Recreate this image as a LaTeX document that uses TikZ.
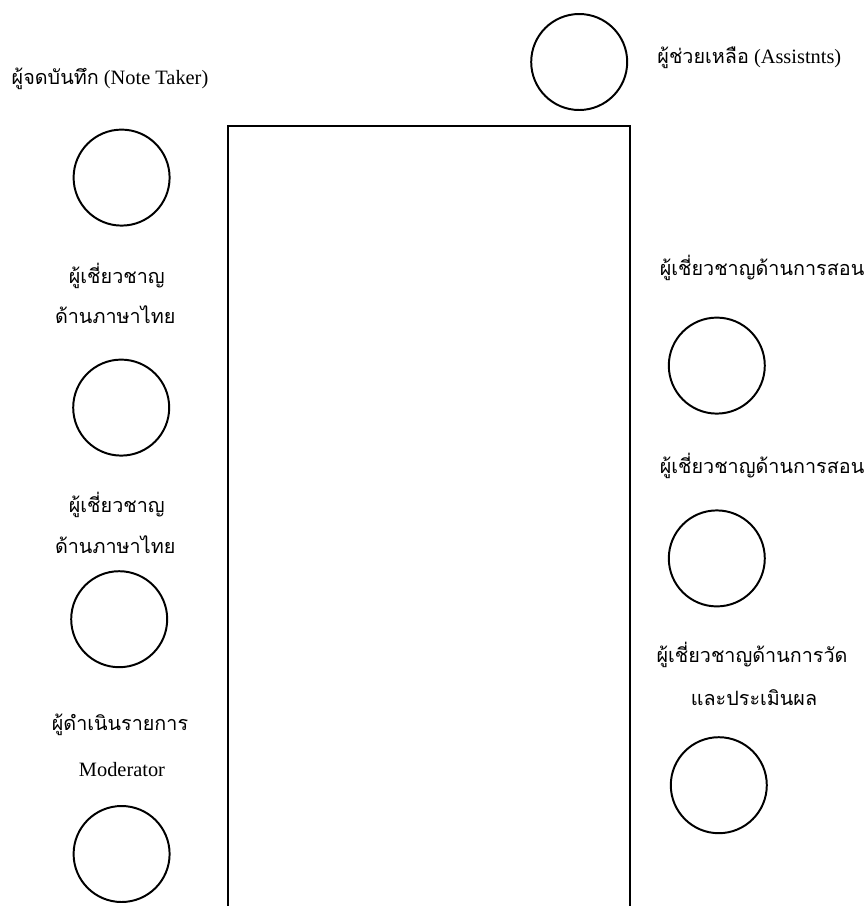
\documentclass[tikz,border=0pt]{standalone}
\usepackage{fontspec}
\setmainfont{Liberation Serif}
\newfontfamily\thaifont[Script=Thai,Scale=0.97]{Loma}
\newcommand{\thtxt}[1]{{\thaifont #1}}
\usetikzlibrary{positioning}

\begin{document}
\begin{tikzpicture}[
      every node/.style={font=\fontsize{14.5}{16}\selectfont},
      seat/.style={draw,circle,minimum size=2.4cm,line width=1.4pt,inner sep=0pt},
      lbl/.style={anchor=base,inner sep=0pt},
      tablebox/.style={draw,line width=1.4pt}]
      \useasboundingbox (0,0) rectangle (21.6,-22.65);
      % table
      \draw[tablebox] (5.7,-22.65) -- (5.7,-3.15) -- (15.75,-3.15) -- (15.75,-22.65);
      % seats
      \node[seat] (help) at (14.48,-1.55) {};
      \node[seat] (note) at (3.04,-4.44) {};
      \node[seat] (thai1) at (3.03,-10.19) {};
      \node[seat] (thai2) at (2.98,-15.48) {};
      \node[seat] (mod) at (3.04,-21.35) {};
      \node[seat] (teach1) at (17.92,-9.14) {};
      \node[seat] (teach2) at (17.92,-13.96) {};
      \node[seat] (eval) at (17.97,-19.63) {};
      % labels
      \node[lbl,anchor=base west] (helplbl) at (16.43,-1.58) {\thtxt{ผู้ช่วยเหลือ} (Assistnts)};
      \node[lbl] (notelbl) at (2.75,-2.1) {\thtxt{ผู้จดบันทึก} (Note Taker)};
      \node[lbl] (thai1a) at (2.92,-7.08) {\thtxt{ผู้เชี่ยวชาญ}};
      \node[lbl] (thai1b) at (2.88,-8.08) {\thtxt{ด้านภาษาไทย}};
      \node[lbl] (thai2a) at (2.92,-12.8) {\thtxt{ผู้เชี่ยวชาญ}};
      \node[lbl] (thai2b) at (2.88,-13.83) {\thtxt{ด้านภาษาไทย}};
      \node[lbl] (moda) at (3.0,-18.25) {\thtxt{ผู้ดำเนินรายการ}};
      \node[lbl] (modb) at (3.05,-19.4) {Moderator};
      \node[lbl] (teach1lbl) at (19.05,-6.88) {\thtxt{ผู้เชี่ยวชาญด้านการสอน}};
      \node[lbl] (teach2lbl) at (19.05,-11.83) {\thtxt{ผู้เชี่ยวชาญด้านการสอน}};
      \node[lbl] (evala) at (18.8,-16.55) {\thtxt{ผู้เชี่ยวชาญด้านการวัด}};
      \node[lbl] (evalb) at (18.85,-17.63) {\thtxt{และประเมินผล}};
    \end{tikzpicture}
\end{document}
